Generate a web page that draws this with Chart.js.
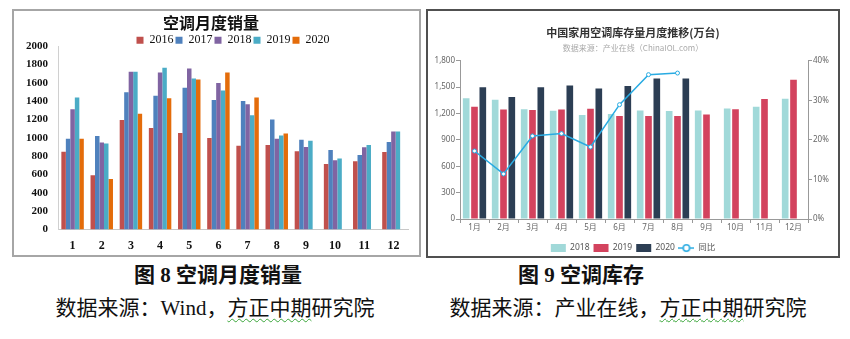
<!DOCTYPE html>
<html>
<head>
<meta charset="utf-8">
<script src="https://cdn.jsdelivr.net/npm/chart.js@4"></script>
<style>
  body { margin: 0; background: #fff; width: 850px; height: 339px; position: relative; overflow: hidden; }
  .box { position: absolute; box-sizing: border-box; overflow: hidden; }
  #box1 { left: 12px; top: 9px; width: 409px; height: 248px; border: 2px solid #a6a6a6; }
  #box2 { left: 426px; top: 9px; width: 414px; height: 249px; border: 2px solid #505050; }
  canvas { display: block; }
  .cap { position: absolute; font-family: "Liberation Serif", "Noto Sans CJK SC", serif; font-size: 21px; color: #111; white-space: pre; transform: translateX(-50%); }
  .cap.t { font-weight: bold; }
  .wavy { text-decoration: underline wavy #3aa63a; text-decoration-thickness: 1px; text-underline-offset: 3px; }
</style>
</head>
<body>
<div class="box" id="box1"><canvas id="salesChart" width="405" height="244"></canvas></div>
<div class="box" id="box2"><canvas id="stockChart" width="410" height="245"></canvas></div>

<div class="cap t" style="left:218px; top:258px;">图 8 空调月度销量</div>
<div class="cap" style="left:215px; top:291px;">数据来源：Wind，<span class="wavy">方正中期</span>研究院</div>
<div class="cap t" style="left:581px; top:258px;">图 9 空调库存</div>
<div class="cap" style="left:628px; top:291px;">数据来源：产业在线，<span class="wavy">方正中期</span>研究院</div>

<script>
// left chart: monthly AC sales
const salesMonths = ['1', '2', '3', '4', '5', '6', '7', '8', '9', '10', '11', '12'];
const sales2016 = [850, 593, 1194, 1107, 1053, 998, 915, 922, 854, 716, 745, 846];
const sales2017 = [991, 1020, 1497, 1461, 1548, 1414, 1403, 1201, 980, 868, 814, 955];
const sales2018 = [1313, 951, 1722, 1714, 1758, 1599, 1367, 991, 901, 756, 897, 1071];
const sales2019 = [1440, 940, 1722, 1765, 1649, 1516, 1248, 1027, 969, 774, 922, 1071];
const sales2020 = [991, 553, 1262, 1432, 1638, 1714, 1440, 1049, null, null, null, null];

// right chart: AC inventory
const stockMonths = ['1月', '2月', '3月', '4月', '5月', '6月', '7月', '8月', '9月', '10月', '11月', '12月'];
const stock2018 = [1375, 1356, 1250, 1231, 1182, 1194, 1235, 1228, 1235, 1258, 1277, 1368];
const stock2019 = [1277, 1247, 1239, 1247, 1254, 1171, 1171, 1171, 1190, 1250, 1364, 1584];
const stock2020 = [1500, 1387, 1500, 1519, 1485, 1512, 1599, 1599, null, null, null, null];
const stockYoY = [17.2, 11.4, 21.0, 21.6, 18.2, 28.9, 36.5, 36.9, null, null, null, null];

const serif = '"Liberation Serif", "Times New Roman", serif';
const sans = '"Noto Sans", "Noto Sans CJK SC", sans-serif';
const cjk = '"Noto Sans CJK SC", sans-serif';

function bar(label, data, color) {
  return { label: label, data: data, backgroundColor: color, borderWidth: 0 };
}

new Chart(document.getElementById('salesChart'), {
  type: 'bar',
  data: {
    labels: salesMonths,
    datasets: [
      bar('2016', sales2016, '#C0504D'),
      bar('2017', sales2017, '#4F81BD'),
      bar('2018', sales2018, '#8064A2'),
      bar('2019', sales2019, '#4BACC6'),
      bar('2020', sales2020, '#E46C0A')
    ]
  },
  options: {
    responsive: false,
    animation: false,
    barPercentage: 1,
    categoryPercentage: 0.77,
    layout: { padding: { left: 0, right: 11, top: 2, bottom: 4 } },
    plugins: {
      title: {
        display: true,
        text: '空调月度销量',
        color: '#111',
        font: { family: cjk, size: 16, weight: 'bold' },
        padding: { top: 0, bottom: 0 }
      },
      legend: {
        position: 'top',
        fullSize: false,
        maxHeight: 14,
        labels: {
          boxWidth: 7, boxHeight: 7, padding: 2,
          color: '#111',
          font: { family: serif, size: 12 }
        }
      },
      tooltip: { enabled: false }
    },
    scales: {
      x: {
        grid: { display: false, drawTicks: false },
        border: { color: '#c8c8c8' },
        afterFit: s => { s.height = 21.4; },
        ticks: { color: '#111', font: { family: serif, size: 12, weight: 'bold' }, padding: 9, maxRotation: 0 }
      },
      y: {
        min: 0, max: 2000,
        grid: { display: false, drawTicks: false },
        border: { color: '#d0d0d0' },
        afterFit: s => { s.width = 44; },
        ticks: {
          stepSize: 200, autoSkip: false, color: '#111', padding: 10,
          font: { family: serif, size: 11, weight: 'bold' },
          callback: v => String(v)
        }
      }
    }
  }
});

// small icon for the yoy line in the legend
const lineIcon = document.createElement('canvas');
lineIcon.width = 16; lineIcon.height = 10;
(function () {
  const c = lineIcon.getContext('2d');
  c.strokeStyle = '#29ABE2'; c.lineWidth = 1.5;
  c.beginPath(); c.moveTo(0, 5); c.lineTo(16, 5); c.stroke();
  c.fillStyle = '#fff';
  c.beginPath(); c.arc(8, 5, 3.2, 0, Math.PI * 2); c.fill(); c.stroke();
})();

new Chart(document.getElementById('stockChart'), {
  type: 'bar',
  data: {
    labels: stockMonths,
    datasets: [
      { label: '2018', data: stock2018, backgroundColor: '#A1D9D9', yAxisID: 'y', order: 1 },
      { label: '2019', data: stock2019, backgroundColor: '#D3435E', yAxisID: 'y', order: 1 },
      { label: '2020', data: stock2020, backgroundColor: '#2C3E54', yAxisID: 'y', order: 1 },
      {
        type: 'line', label: '同比', data: stockYoY, yAxisID: 'y1', order: 0,
        borderColor: '#29ABE2', borderWidth: 1.5, tension: 0,
        pointRadius: 2, pointBorderWidth: 1, pointBackgroundColor: '#fff', pointBorderColor: '#29ABE2'
      }
    ]
  },
  options: {
    responsive: false,
    animation: false,
    barPercentage: 0.8,
    categoryPercentage: 0.86,
    layout: { padding: { left: 0, right: 0, top: 15, bottom: 0 } },
    plugins: {
      title: {
        display: true,
        text: '中国家用空调库存量月度推移(万台)',
        color: '#333',
        font: { family: cjk, size: 11, weight: 'bold' },
        padding: { top: 0, bottom: 4 }
      },
      subtitle: {
        display: true,
        text: '数据来源：产业在线（ChinaIOL.com）',
        color: '#aaa',
        font: { family: cjk, size: 8 },
        padding: { top: 0, bottom: 8 }
      },
      legend: {
        position: 'bottom',
        maxHeight: 23.4,
        title: { display: true, text: '', font: { size: 1 }, padding: { top: 0, bottom: 6 } },
        labels: {
          usePointStyle: true,
          pointStyleWidth: 15,
          boxHeight: 8,
          padding: 4,
          color: '#555',
          font: { family: sans, size: 8.5 },
          sort: (a, b) => a.datasetIndex - b.datasetIndex,
          generateLabels: function (chart) {
            const items = Chart.defaults.plugins.legend.labels.generateLabels(chart);
            items.forEach(it => {
              if (it.datasetIndex === 3) { it.pointStyle = lineIcon; }
              else { it.pointStyle = 'rect'; it.lineWidth = 0; }
            });
            return items;
          }
        }
      },
      tooltip: { enabled: false }
    },
    scales: {
      x: {
        grid: { display: true, drawOnChartArea: false, tickLength: 4, color: '#999' },
        border: { color: '#999' },
        afterFit: s => { s.height = 13.6; },
        ticks: { color: '#666', font: { family: sans, size: 8 }, padding: 0, maxRotation: 0 }
      },
      y: {
        position: 'left',
        min: 0, max: 1800,
        grid: { display: true, drawOnChartArea: false, tickLength: 4, color: '#999' },
        border: { color: '#999' },
        afterFit: s => { s.width = 32; },
        ticks: {
          stepSize: 300, color: '#666', padding: 1,
          font: { family: sans, size: 8 },
          callback: v => v.toLocaleString('en-US')
        }
      },
      y1: {
        position: 'right',
        min: 0, max: 40,
        grid: { display: true, drawOnChartArea: false, tickLength: 4, color: '#999' },
        border: { color: '#999' },
        afterFit: s => { s.width = 30; },
        ticks: {
          stepSize: 10, color: '#666', padding: 1,
          font: { family: sans, size: 8 },
          callback: v => v + '%'
        }
      }
    }
  }
});
</script>
</body>
</html>
